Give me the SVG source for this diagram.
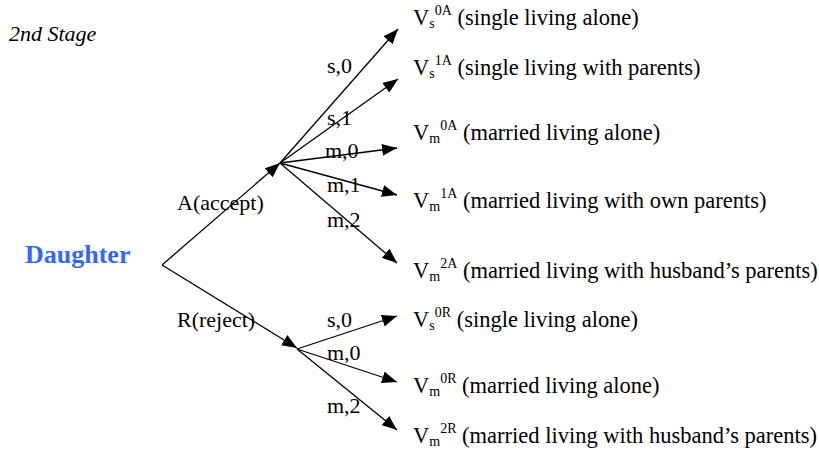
<svg xmlns="http://www.w3.org/2000/svg" width="819" height="455" viewBox="0 0 819 455">
<style>
text{font-family:"Liberation Serif","Times New Roman",serif;fill:#000}
.lbl{font-size:22px}
.desc{font-size:22.5px}
.sm{font-size:14px}
.title{font-size:22px;font-style:italic}
.root{font-size:26px;font-weight:bold;fill:#3366FF}
.edge{stroke:#000;stroke-width:1.3;fill:none;marker-end:url(#ah)}
</style>
<defs>
<marker id="ah" markerUnits="userSpaceOnUse" markerWidth="16" markerHeight="12" viewBox="0 0 16 12" refX="15" refY="6" orient="auto">
<path d="M0,0 L15,6 L0,12 Z" fill="#000"/>
</marker>
</defs>
<rect width="819" height="455" fill="#fff"/>
<text class="title" x="9" y="41">2nd Stage</text>
<g id="daughter"><text class="root" x="25" y="263">Daughter</text></g>
<g id="connectors">
<line class="edge" x1="162" y1="265" x2="280" y2="163"/>
<line class="edge" x1="162" y1="265" x2="297" y2="348"/>
<line class="edge" x1="280" y1="163" x2="398" y2="29"/>
<line class="edge" x1="280" y1="163" x2="398" y2="79"/>
<line class="edge" x1="280" y1="163" x2="397" y2="148"/>
<line class="edge" x1="280" y1="163" x2="397" y2="195"/>
<line class="edge" x1="280" y1="163" x2="397" y2="263"/>
<line class="edge" x1="297" y1="349" x2="397" y2="316"/>
<line class="edge" x1="297" y1="349" x2="397" y2="382"/>
<line class="edge" x1="297" y1="349" x2="397" y2="430"/>
<text class="lbl" x="177" y="210">A(accept)</text>
<text class="lbl" x="177" y="327">R(reject)</text>
<text class="lbl" x="327" y="73">s,0</text>
<text class="lbl" x="327" y="125">s,1</text>
<text class="lbl" x="325" y="158">m,0</text>
<text class="lbl" x="327" y="192">m,1</text>
<text class="lbl" x="327" y="227">m,2</text>
<text class="lbl" x="327" y="327">s,0</text>
<text class="lbl" x="327" y="360">m,0</text>
<text class="lbl" x="327" y="413">m,2</text>
</g>
<g id="vs0a"><text class="desc" x="413" y="25">V<tspan class="sm" dy="3">s</tspan><tspan class="sm" dy="-13">0A</tspan><tspan dy="10"> (single living alone)</tspan></text></g>
<g id="vs1a"><text class="desc" x="413" y="75">V<tspan class="sm" dy="3">s</tspan><tspan class="sm" dy="-13">1A</tspan><tspan dy="10"> (single living with parents)</tspan></text></g>
<g id="vm0a"><text class="desc" x="413" y="140">V<tspan class="sm" dy="3">m</tspan><tspan class="sm" dy="-13">0A</tspan><tspan dy="10"> (married living alone)</tspan></text></g>
<g id="vm1a"><text class="desc" x="413" y="208">V<tspan class="sm" dy="3">m</tspan><tspan class="sm" dy="-13">1A</tspan><tspan dy="10"> (married living with own parents)</tspan></text></g>
<g id="vm2a"><text class="desc" x="413" y="278">V<tspan class="sm" dy="3">m</tspan><tspan class="sm" dy="-13">2A</tspan><tspan dy="10"> (married living with husband’s parents)</tspan></text></g>
<g id="vs0r"><text class="desc" x="413" y="327">V<tspan class="sm" dy="3">s</tspan><tspan class="sm" dy="-13">0R</tspan><tspan dy="10"> (single living alone)</tspan></text></g>
<g id="vm0r"><text class="desc" x="413" y="393">V<tspan class="sm" dy="3">m</tspan><tspan class="sm" dy="-13">0R</tspan><tspan dy="10"> (married living alone)</tspan></text></g>
<g id="vm2r"><text class="desc" x="413" y="443">V<tspan class="sm" dy="3">m</tspan><tspan class="sm" dy="-13">2R</tspan><tspan dy="10"> (married living with husband’s parents)</tspan></text></g>
</svg>
